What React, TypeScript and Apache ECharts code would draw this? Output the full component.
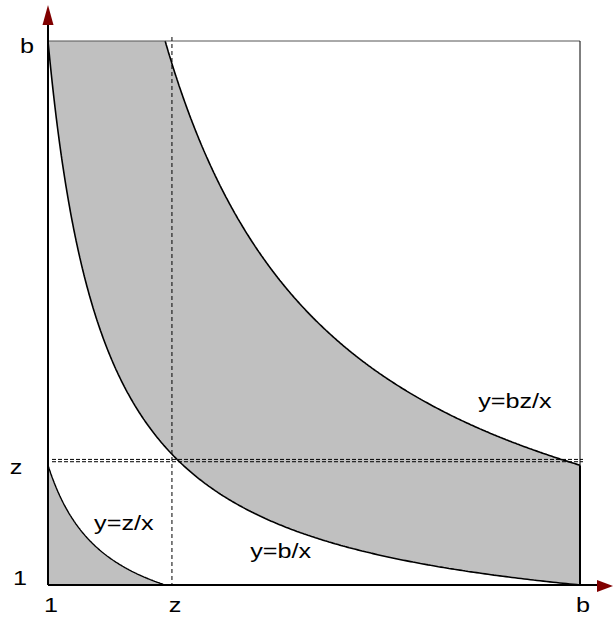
import React, { useEffect, useRef } from "react";
import * as echarts from "echarts";

// Parameters of the diagram: the square spans [1, b] on both axes
const B = 10.4;
const Z = 3.07;

// Dashed guides through the point where y=b/x meets the diagonal
const guideX = [3.19];
const guideY = [3.13, 3.17];

// Axis tick labels
const xTickLabels = ["1", "z", "b"];
const xTickValues = [1, guideX[0], B];
const yTickLabels = ["1", "z", "b"];
const yTickValues = [1, Z, B];

// Curve captions
const captionTexts = ["y=bz/x", "y=b/x", "y=z/x"];
const captionX = [9.25, 5.11, 2.34];
const captionY = [4.18, 1.59, 2.08];

// Sample y = k/x between x0 and x1 with geometric spacing (dense where steep)
function hyperbola(k: number, x0: number, x1: number, n = 400): number[][] {
  const pts: number[][] = [];
  for (let i = 0; i <= n; i++) {
    const x = x0 * Math.pow(x1 / x0, i / n);
    pts.push([x, k / x]);
  }
  return pts;
}

const bOverX = hyperbola(B, 1, B);
const bzOverX = hyperbola(B * Z, Z, B);
const zOverX = hyperbola(Z, 1, Z);

const SHADE = "#c0c0c0";
const ARROW = "#800000";
const FONT = "'Liberation Sans', Arial, sans-serif";

function label(text: string, x: number, y: number) {
  return {
    type: "text",
    x,
    y,
    scaleX: 1.2,
    style: {
      text,
      fill: "#000",
      fontSize: 21,
      fontFamily: FONT,
      align: "center",
      verticalAlign: "middle",
    },
  };
}

export default function App() {
  const ref = useRef<HTMLDivElement>(null);

  useEffect(() => {
    document.body.style.margin = "0";
    const chart = echarts.init(ref.current!, null, { renderer: "svg" });

    const curveStyle = { color: "#000", width: 1.6 };

    const option: any = {
      animation: false,
      grid: { left: 48, top: 41, right: 33, bottom: 33 },
      xAxis: { type: "value", min: 1, max: B, show: false },
      yAxis: { type: "value", min: 1, max: B, show: false },
      series: [
        {
          // shaded regions
          type: "custom",
          z: 1,
          clip: false,
          data: [[1, 1]],
          renderItem: (_p: any, api: any) => {
            const band = [
              [1, B],
              ...bzOverX,
              [B, 1],
              ...bOverX.slice().reverse(),
            ].map((p) => api.coord(p));
            const corner = [[1, 1], ...zOverX].map((p) => api.coord(p));
            return {
              type: "group",
              children: [
                { type: "polygon", shape: { points: band }, style: { fill: SHADE } },
                { type: "polygon", shape: { points: corner }, style: { fill: SHADE } },
              ],
            };
          },
        },
        {
          name: "y=b/x",
          type: "line",
          z: 2,
          clip: false,
          symbol: "none",
          lineStyle: curveStyle,
          data: bOverX,
        },
        {
          name: "y=bz/x",
          type: "line",
          z: 2,
          clip: false,
          symbol: "none",
          lineStyle: curveStyle,
          data: bzOverX,
        },
        {
          name: "y=z/x",
          type: "line",
          z: 2,
          clip: false,
          symbol: "none",
          lineStyle: { color: "#000", width: 1.4 },
          data: zOverX,
        },
        {
          // frame, guides, axes, arrows and texts
          type: "custom",
          z: 3,
          clip: false,
          data: [[1, 1]],
          renderItem: (_p: any, api: any) => {
            const [x0, y0] = api.coord([1, 1]);
            const [x1, y1] = api.coord([B, B]);
            const yz = api.coord([B, Z])[1];
            const children: any[] = [];

            // frame
            children.push({
              type: "line",
              shape: { x1: x0, y1: y1, x2: x1, y2: y1 },
              style: { stroke: "#555", lineWidth: 1 },
            });
            children.push({
              type: "line",
              shape: { x1: x1, y1: y1, x2: x1, y2: yz },
              style: { stroke: "#000", lineWidth: 1 },
            });
            children.push({
              type: "line",
              shape: { x1: x1, y1: yz, x2: x1, y2: y0 },
              style: { stroke: "#000", lineWidth: 2 },
            });

            // dashed guides
            guideX.forEach((gx) => {
              const px = api.coord([gx, 1])[0];
              children.push({
                type: "line",
                shape: { x1: px, y1: y1 - 4, x2: px, y2: y0 },
                style: { stroke: "#000", lineWidth: 1, lineDash: [4, 3] },
              });
            });
            guideY.forEach((gy) => {
              const py = api.coord([1, gy])[1];
              children.push({
                type: "line",
                shape: { x1: x0 + 4, y1: py, x2: x1 + 3, y2: py },
                style: { stroke: "#000", lineWidth: 1, lineDash: [4, 2] },
              });
            });

            // axes
            children.push({
              type: "line",
              shape: { x1: x0, y1: y0, x2: x0, y2: y1 - 16 },
              style: { stroke: "#000", lineWidth: 2 },
            });
            children.push({
              type: "line",
              shape: { x1: x0, y1: y0, x2: x1 + 17, y2: y0 },
              style: { stroke: "#000", lineWidth: 2 },
            });

            // arrow heads
            children.push({
              type: "polygon",
              shape: {
                points: [
                  [x0, y1 - 36],
                  [x0 - 5.5, y1 - 16],
                  [x0 + 5.5, y1 - 16],
                ],
              },
              style: { fill: ARROW },
            });
            children.push({
              type: "polygon",
              shape: {
                points: [
                  [x1 + 33, y0 + 1],
                  [x1 + 17, y0 - 5],
                  [x1 + 17, y0 + 7],
                ],
              },
              style: { fill: ARROW },
            });

            // tick labels
            xTickValues.forEach((v, i) => {
              const px = api.coord([v, 1])[0];
              children.push(label(xTickLabels[i], px + 3, y0 + 19.5));
            });
            const yLabelDx = [-28, -32, -21];
            const yLabelDy = [-7, 1.4, 4.6];
            yTickValues.forEach((v, i) => {
              const py = api.coord([1, v])[1];
              children.push(label(yTickLabels[i], x0 + yLabelDx[i], py + yLabelDy[i]));
            });

            // curve captions
            captionTexts.forEach((t, i) => {
              const [cx, cy] = api.coord([captionX[i], captionY[i]]);
              children.push(label(t, cx, cy));
            });

            return { type: "group", children };
          },
        },
      ],
    };

    chart.setOption(option);
    return () => chart.dispose();
  }, []);

  return <div ref={ref} style={{ width: 613, height: 618 }} />;
}
